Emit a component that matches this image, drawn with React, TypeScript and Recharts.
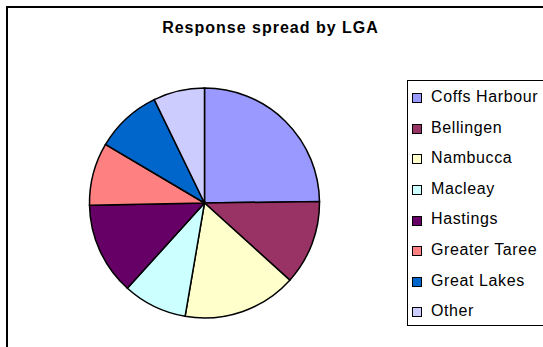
import React from "react";
import { PieChart, Pie, Cell } from "recharts";

const lgas = [
  "Coffs Harbour",
  "Bellingen",
  "Nambucca",
  "Macleay",
  "Hastings",
  "Greater Taree",
  "Great Lakes",
  "Other",
];
const responses = [24.8, 11.9, 16.0, 9.0, 13.0, 8.8, 9.3, 7.2];
const sliceColors = [
  "#9999FF",
  "#993366",
  "#FFFFCC",
  "#CCFFFF",
  "#660066",
  "#FF8080",
  "#0066CC",
  "#CCCCFF",
];

const data = lgas.map((name, i) => ({ name, value: responses[i] }));

const FONT = '"Liberation Sans", Arial, sans-serif';

function LegendBox() {
  return (
    <div
      style={{
        position: "absolute",
        left: 407,
        top: 80,
        width: 136,
        height: 246,
        borderTop: "1px solid #000",
        borderLeft: "1px solid #000",
        borderBottom: "1px solid #000",
        boxSizing: "border-box",
        paddingTop: 1,
        paddingLeft: 4,
        overflow: "hidden",
        fontFamily: FONT,
        fontSize: 16,
        letterSpacing: 0.6,
        color: "#000",
      }}
    >
      {lgas.map((name, i) => (
        <div
          key={`item-${name}`}
          style={{
            height: 30.6,
            lineHeight: "30.6px",
            display: "flex",
            alignItems: "center",
            whiteSpace: "nowrap",
          }}
        >
          <span
            style={{
              display: "inline-block",
              flex: "none",
              width: 8,
              height: 8,
              marginRight: 9,
              marginTop: 2,
              background: sliceColors[i],
              border: "1px solid #000",
            }}
          />
          <span>{name}</span>
        </div>
      ))}
    </div>
  );
}

export default function App() {
  return (
    <div
      style={{
        position: "absolute",
        left: 0,
        top: 0,
        width: 543,
        height: 347,
        overflow: "hidden",
        background: "#fff",
      }}
    >
      {/* chart area frame, runs past the right and bottom edges */}
      <div
        style={{
          position: "absolute",
          left: 6,
          top: 6,
          width: 560,
          height: 360,
          border: "2px solid #000",
        }}
      />
      <div
        style={{
          position: "absolute",
          left: 0,
          top: 19,
          width: 541,
          height: 18,
          lineHeight: "18px",
          textAlign: "center",
          fontFamily: FONT,
          fontSize: 16,
          fontWeight: "bold",
          letterSpacing: 1,
        }}
      >
        Response spread by LGA
      </div>
      <PieChart
        width={543}
        height={347}
        margin={{ top: 0, right: 0, bottom: 0, left: 0 }}
        style={{ position: "absolute", left: 0, top: 0 }}
      >
        <Pie
          data={data}
          dataKey="value"
          nameKey="name"
          cx={204.5}
          cy={203}
          outerRadius={115}
          startAngle={90}
          endAngle={-270}
          stroke="#000"
          strokeWidth={1.5}
          isAnimationActive={false}
        >
          {data.map((d, i) => (
            <Cell key={`cell-${d.name}`} fill={sliceColors[i]} />
          ))}
        </Pie>
      </PieChart>
      <LegendBox />
    </div>
  );
}
